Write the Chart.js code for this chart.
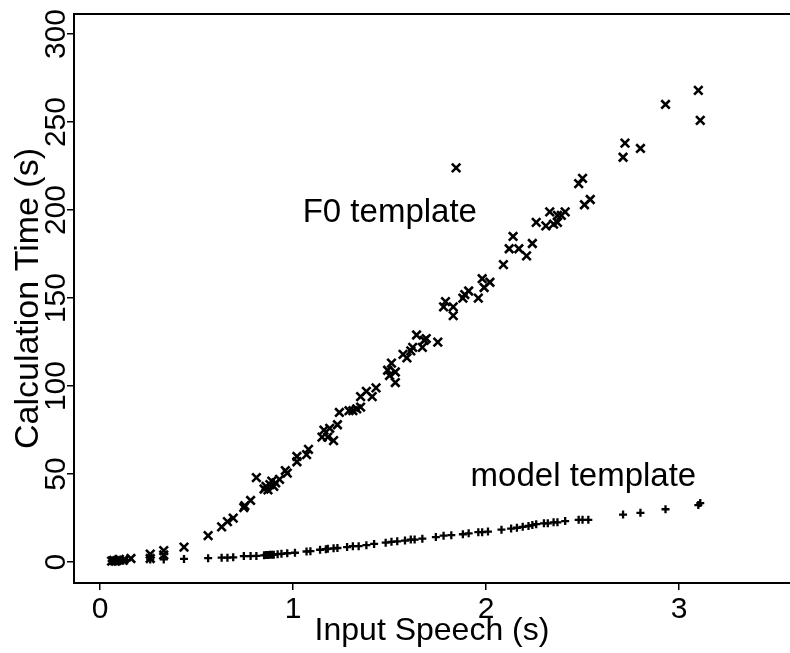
<!DOCTYPE html>
<html>
<head>
<meta charset="utf-8">
<script src="https://cdn.jsdelivr.net/npm/chart.js@4.4.0/dist/chart.umd.min.js"></script>
<style>
  html, body { margin: 0; padding: 0; background: #fff; }
  canvas { display: block; }
</style>
</head>
<body>
<canvas id="timing_chart" width="790" height="653"></canvas>
<script>
// input speech length (s) vs. calculation time (s), one point per utterance
const f0Speech = [0.06, 0.07, 0.08, 0.09, 0.10, 0.12, 0.16, 0.26, 0.26, 0.33, 0.33, 0.435,
  0.56, 0.63, 0.66, 0.69, 0.745, 0.75, 0.78, 0.81, 0.85, 0.86, 0.87, 0.88, 0.89, 0.90, 0.91,
  0.93, 0.96, 0.97, 1.02, 1.02, 1.07, 1.08, 1.15, 1.16, 1.18, 1.19, 1.21, 1.23, 1.24, 1.29,
  1.31, 1.33, 1.35, 1.35, 1.38, 1.41, 1.43, 1.49, 1.50, 1.51, 1.53, 1.53, 1.57, 1.59, 1.61,
  1.62, 1.64, 1.67, 1.68, 1.69, 1.75, 1.78, 1.79, 1.83, 1.83, 1.845, 1.88, 1.89, 1.91, 1.96,
  1.98, 1.99, 2.02, 2.09, 2.12, 2.14, 2.17, 2.21, 2.24, 2.26, 2.31, 2.33, 2.35, 2.37, 2.37,
  2.39, 2.41, 2.48, 2.50, 2.51, 2.54, 2.71, 2.72, 2.80, 2.93, 3.10, 3.11];
const f0Time = [0.5, 1.0, 0.5, 1.0, 1.5, 1.0, 2.0, 4.5, 2.0, 6.5, 4.0, 8.5,
  15, 20, 23, 25, 31, 32, 35, 48, 41.5, 43, 41, 44, 46, 43, 45,
  47, 52, 50.5, 60, 57, 61, 64, 71, 75, 71, 76, 69, 78, 85, 86,
  86, 87, 88, 94, 97, 94, 99, 109, 106, 113, 108, 102, 118, 116, 120,
  122, 129, 122, 126, 127, 125, 145, 148, 145, 140, 224, 150, 152, 154, 150,
  161, 156, 159, 169, 178, 185, 178, 174, 181, 193, 191, 199, 192, 193, 197,
  197, 199, 215, 218, 203, 206, 230, 238, 235, 260, 268, 251];

const modelSpeech = [0.06, 0.07, 0.08, 0.09, 0.10, 0.12, 0.14, 0.26, 0.33, 0.435, 0.56, 0.63,
  0.66, 0.69, 0.745, 0.78, 0.81, 0.85, 0.86, 0.87, 0.88, 0.89, 0.90, 0.92, 0.94, 0.97, 1.01,
  1.07, 1.09, 1.14, 1.17, 1.18, 1.21, 1.23, 1.28, 1.31, 1.34, 1.38, 1.42, 1.48, 1.51, 1.54,
  1.58, 1.61, 1.63, 1.67, 1.74, 1.78, 1.82, 1.88, 1.91, 1.96, 1.98, 2.01, 2.08, 2.13, 2.16,
  2.19, 2.22, 2.24, 2.26, 2.30, 2.32, 2.35, 2.37, 2.41, 2.48, 2.50, 2.53, 2.71, 2.80, 2.93,
  3.10, 3.11];
const modelTime = [0.5, 0.5, 0.5, 0.5, 0.8, 0.8, 1.0, 1.5, 1.5, 1.8, 2.2, 2.5,
  2.5, 2.7, 3.4, 3.4, 3.5, 3.8, 4.0, 4.0, 4.1, 4.2, 4.2, 4.5, 4.7, 5.0, 5.3,
  6.0, 6.2, 7.0, 7.3, 7.5, 7.8, 8.0, 8.5, 9.0, 9.0, 9.6, 10.3, 11, 11.5, 11.8,
  12.2, 12.8, 12.8, 13.3, 14.2, 15, 15.3, 15.8, 16.3, 17, 17, 17.3, 18.4, 19, 19.5,
  20, 20.5, 21, 21.5, 22, 22, 22.6, 22.6, 23.3, 24, 24, 24, 27, 28, 30,
  32.4, 33.5];

const curveNames = ["F0 template", "model template"];
const xTicks = [0, 1, 2, 3];
const yTicks = [0, 50, 100, 150, 200, 250, 300];

const FONT = "'Liberation Sans', Arial, Helvetica, sans-serif";

const toPoints = (xs, ys) => xs.map((x, i) => ({ x: x, y: ys[i] }));

// where each curve name sits, in data units (left edge, baseline)
const namePos = [
  { x: 1.05, y: 193 },
  { x: 1.92, y: 43 },
];

// top edge of the box, upright y tick labels and the curve names
const framePlugin = {
  id: "frame",
  afterDraw(chart) {
    const { ctx, chartArea, scales } = chart;
    ctx.save();
    ctx.strokeStyle = "#000";
    ctx.lineWidth = 2;
    ctx.beginPath();
    ctx.moveTo(chartArea.left, chartArea.top);
    ctx.lineTo(chartArea.right, chartArea.top);
    ctx.stroke();

    ctx.fillStyle = "#000";
    ctx.font = "30px " + FONT;
    ctx.textAlign = "center";
    ctx.textBaseline = "alphabetic";
    yTicks.forEach((v) => {
      ctx.save();
      ctx.translate(chartArea.left - 9, scales.y.getPixelForValue(v));
      ctx.rotate(-Math.PI / 2);
      ctx.fillText(String(v), 0, 0);
      ctx.restore();
    });

    ctx.font = "33px " + FONT;
    ctx.textAlign = "left";
    curveNames.forEach((name, i) => {
      ctx.fillText(name, scales.x.getPixelForValue(namePos[i].x), scales.y.getPixelForValue(namePos[i].y));
    });
    ctx.restore();
  },
};

// no extra room for edge labels, the box runs to the canvas edge
const noEdgePadding = (s) => {
  s.paddingLeft = 0;
  s.paddingRight = 0;
  s.paddingTop = 0;
  s.paddingBottom = 0;
};

new Chart(document.getElementById("timing_chart"), {
  type: "scatter",
  data: {
    datasets: [
      {
        label: curveNames[0],
        data: toPoints(f0Speech, f0Time),
        pointStyle: "crossRot",
        pointRadius: 6,
        borderColor: "#000",
        backgroundColor: "#000",
        borderWidth: 2.6,
      },
      {
        label: curveNames[1],
        data: toPoints(modelSpeech, modelTime),
        pointStyle: "cross",
        pointRadius: 4,
        borderColor: "#000",
        backgroundColor: "#000",
        borderWidth: 2.3,
      },
    ],
  },
  options: {
    responsive: false,
    animation: false,
    events: [],
    layout: { autoPadding: false, padding: { top: 14, right: 0, bottom: 0, left: 0 } },
    plugins: {
      legend: { display: false },
      tooltip: { enabled: false },
    },
    scales: {
      x: {
        type: "linear",
        min: -0.135,
        max: 3.575,
        afterBuildTicks: (s) => { s.ticks = xTicks.map((v) => ({ value: v })); },
        afterFit: (s) => { s.height = 70; noEdgePadding(s); },
        border: { color: "#000", width: 2 },
        grid: { drawOnChartArea: false, drawTicks: true, tickLength: 7, color: "#000", lineWidth: 1.5 },
        ticks: { color: "#000", font: { family: FONT, size: 30 }, padding: 2, maxRotation: 0 },
        title: {
          display: true,
          text: "Input Speech (s)",
          color: "#000",
          font: { family: FONT, size: 32, lineHeight: 1 },
          padding: { top: 0, bottom: 6 },
        },
      },
      y: {
        type: "linear",
        min: -11.9,
        max: 311.4,
        afterBuildTicks: (s) => { s.ticks = yTicks.map((v) => ({ value: v })); },
        afterFit: (s) => { s.width = 74; noEdgePadding(s); },
        border: { color: "#000", width: 2 },
        grid: { drawOnChartArea: false, drawTicks: true, tickLength: 7, color: "#000", lineWidth: 1.5 },
        ticks: { display: false },
        title: {
          display: true,
          text: "Calculation Time (s)",
          color: "#000",
          font: { family: FONT, size: 34, lineHeight: 1 },
          padding: { top: 12, bottom: 0 },
        },
      },
    },
  },
  plugins: [framePlugin],
});
</script>
</body>
</html>
